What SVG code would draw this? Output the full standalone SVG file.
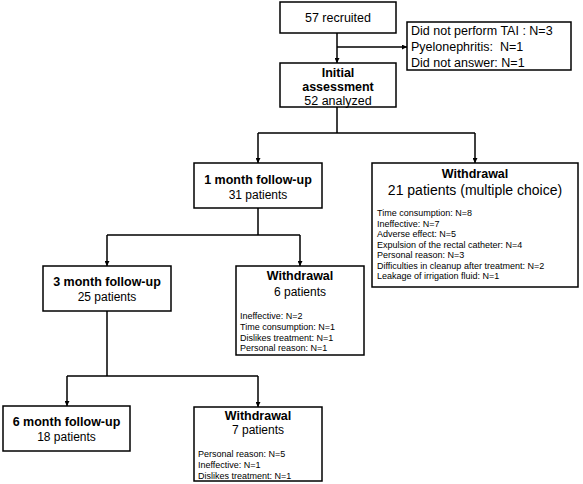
<svg xmlns="http://www.w3.org/2000/svg" width="583" height="484" viewBox="0 0 583 484">
<defs>
<marker id="ah" viewBox="0 0 10 10" refX="10" refY="5" markerWidth="5" markerHeight="5" orient="auto" markerUnits="userSpaceOnUse">
<path d="M0,0 L10,5 L0,10 z" fill="#000"/>
</marker>
<style>
.box{fill:#fff;stroke:#000;stroke-width:1.5}
.c{fill:none;stroke:#000;stroke-width:1.5}
.ca{fill:none;stroke:#000;stroke-width:1.5;marker-end:url(#ah)}
text{font-family:"Liberation Sans",Arial,sans-serif;fill:#000}
.t{font-size:12.5px;font-weight:bold;text-anchor:middle}
.s{font-size:12px;text-anchor:middle}
.r{font-size:12.5px;text-anchor:middle}
.big{font-size:14px;text-anchor:middle}
.side{font-size:12.5px;white-space:pre}
.i{font-size:9px}
</style>
</defs>
<rect width="583" height="484" fill="#fff"/>
<g id="connectors">
<path class="c" d="M337,33 V47"/>
<path class="ca" d="M337,47 H407"/>
<path class="ca" d="M337,47 V63"/>
<path class="c" d="M337,107 V133 M258,133 H475"/>
<path class="ca" d="M258,133 V163"/>
<path class="ca" d="M475,133 V163"/>
<path class="c" d="M258,208 V235 M107,235 H300"/>
<path class="ca" d="M107,235 V266"/>
<path class="ca" d="M300,235 V266"/>
<path class="c" d="M107,311 V376 M67,376 H258"/>
<path class="ca" d="M67,376 V406"/>
<path class="ca" d="M258,376 V407"/>
</g>
<g id="recruited">
<rect class="box" x="280" y="2" width="116" height="31"/>
<text class="r" x="338" y="22">57 recruited</text>
</g>
<g id="excluded">
<rect class="box" x="407" y="22" width="164" height="48"/>
<text class="side" x="411" y="35">Did not perform TAI : N=3</text>
<text class="side" x="411" y="51">Pyelonephritis:  N=1</text>
<text class="side" x="411" y="67">Did not answer: N=1</text>
</g>
<g id="initial">
<rect class="box" x="280" y="63" width="116" height="44"/>
<text class="t" x="338" y="76.5">Initial</text>
<text class="t" x="338" y="90.5">assessment</text>
<text class="r" x="338" y="104.5">52 analyzed</text>
</g>
<g id="month1">
<rect class="box" x="194" y="163" width="128" height="45"/>
<text class="t" x="258" y="184">1 month follow-up</text>
<text class="s" x="258" y="198.5">31 patients</text>
</g>
<g id="withdrawal21">
<rect class="box" x="372" y="163" width="206" height="124"/>
<text class="t" x="475" y="177.5">Withdrawal</text>
<text class="big" x="475" y="195">21 patients (multiple choice)</text>
<text class="i" x="377" y="216">Time consumption: N=8</text>
<text class="i" x="377" y="226.5">Ineffective: N=7</text>
<text class="i" x="377" y="237">Adverse effect: N=5</text>
<text class="i" x="377" y="247.5">Expulsion of the rectal catheter: N=4</text>
<text class="i" x="377" y="258">Personal reason: N=3</text>
<text class="i" x="377" y="268.5">Difficulties in cleanup after treatment: N=2</text>
<text class="i" x="377" y="279">Leakage of irrigation fluid: N=1</text>
</g>
<g id="month3">
<rect class="box" x="43" y="266" width="128" height="45"/>
<text class="t" x="107" y="285.5">3 month follow-up</text>
<text class="s" x="107" y="300.5">25 patients</text>
</g>
<g id="withdrawal6">
<rect class="box" x="236" y="266" width="128" height="89"/>
<text class="t" x="300" y="279.5">Withdrawal</text>
<text class="s" x="300" y="295.5">6 patients</text>
<text class="i" x="240" y="319">Ineffective: N=2</text>
<text class="i" x="240" y="330">Time consumption: N=1</text>
<text class="i" x="240" y="340.5">Dislikes treatment: N=1</text>
<text class="i" x="240" y="351">Personal reason: N=1</text>
</g>
<g id="month6">
<rect class="box" x="3" y="406" width="127" height="45"/>
<text class="t" x="66.5" y="425.5">6 month follow-up</text>
<text class="s" x="66.5" y="441">18 patients</text>
</g>
<g id="withdrawal7">
<rect class="box" x="194" y="407" width="128" height="74"/>
<text class="t" x="258" y="419.5">Withdrawal</text>
<text class="s" x="258" y="433.5">7 patients</text>
<text class="i" x="198" y="457">Personal reason: N=5</text>
<text class="i" x="198" y="468">Ineffective: N=1</text>
<text class="i" x="198" y="479">Dislikes treatment: N=1</text>
</g>
</svg>
